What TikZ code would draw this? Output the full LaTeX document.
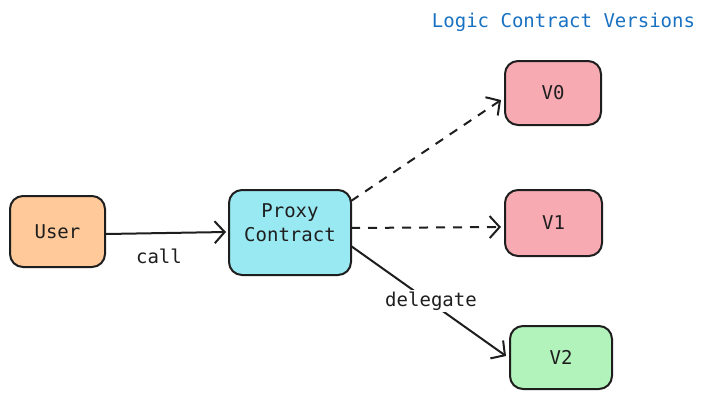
\documentclass[tikz,border=0pt]{standalone}
\usepackage{fontspec}
\setmonofont{DejaVu Sans Mono}
\usetikzlibrary{arrows.meta}
\definecolor{userfill}{HTML}{FFC99A}
\definecolor{proxyfill}{HTML}{99E9F2}
\definecolor{vfill}{HTML}{F8AAB3}
\definecolor{v2fill}{HTML}{B2F2BB}
\definecolor{titleblue}{HTML}{1971C2}
\definecolor{ink}{HTML}{1E1E1E}
\begin{document}
\begin{tikzpicture}[x=1pt,y=-1pt,
  txt/.style={font=\ttfamily\fontsize{19}{24}\selectfont},
  box/.style={txt,draw=ink,line width=2pt,rounded corners=13pt,inner sep=0pt,align=center,text=ink},
  conn/.style={draw=ink,line width=2pt,-{Straight Barb[length=10pt,width=22pt,line width=2pt]}},
  lbl/.style={txt,text=ink,fill=white,inner sep=2pt}]
\useasboundingbox (0,0) rectangle (707,400);
\node[box,fill=userfill,minimum width=95pt,minimum height=71pt] (user) at (57.5,231.5) {User};
\node[box,fill=proxyfill,minimum width=122pt,minimum height=85pt] (proxy) at (290,232.5) {Proxy\\Contract\\[-4pt]};
\node[box,fill=vfill,minimum width=96pt,minimum height=64pt] (v0) at (553,93) {V0};
\node[box,fill=vfill,minimum width=97pt,minimum height=66pt] (v1) at (553.5,223) {V1};
\node[box,fill=v2fill,minimum width=102pt,minimum height=63pt] (v2) at (561,357.5) {V2};
\node[txt,text=titleblue] (title) at (563.5,22) {Logic Contract Versions};
\coordinate (pa) at (351,201);
\coordinate (pb) at (351,228);
\coordinate (pc) at (351,246);
\draw[conn] (user.east |- 0,234) -- ([xshift=-2pt]proxy.west |- 0,232);
\node[lbl,fill=none] (call) at (159,256) {call};
\draw[conn,dash pattern=on 9pt off 8pt] (pa) -- ([xshift=-3pt]v0.west |- 0,100);
\draw[conn,dash pattern=on 9pt off 8pt] (pb) -- ([xshift=-3pt]v1.west |- 0,227);
\draw[conn] (pc) -- ([xshift=-3pt]v2.west |- 0,356);
\node[lbl] (deleg) at (431,301) {delegate};
\end{tikzpicture}
\end{document}
